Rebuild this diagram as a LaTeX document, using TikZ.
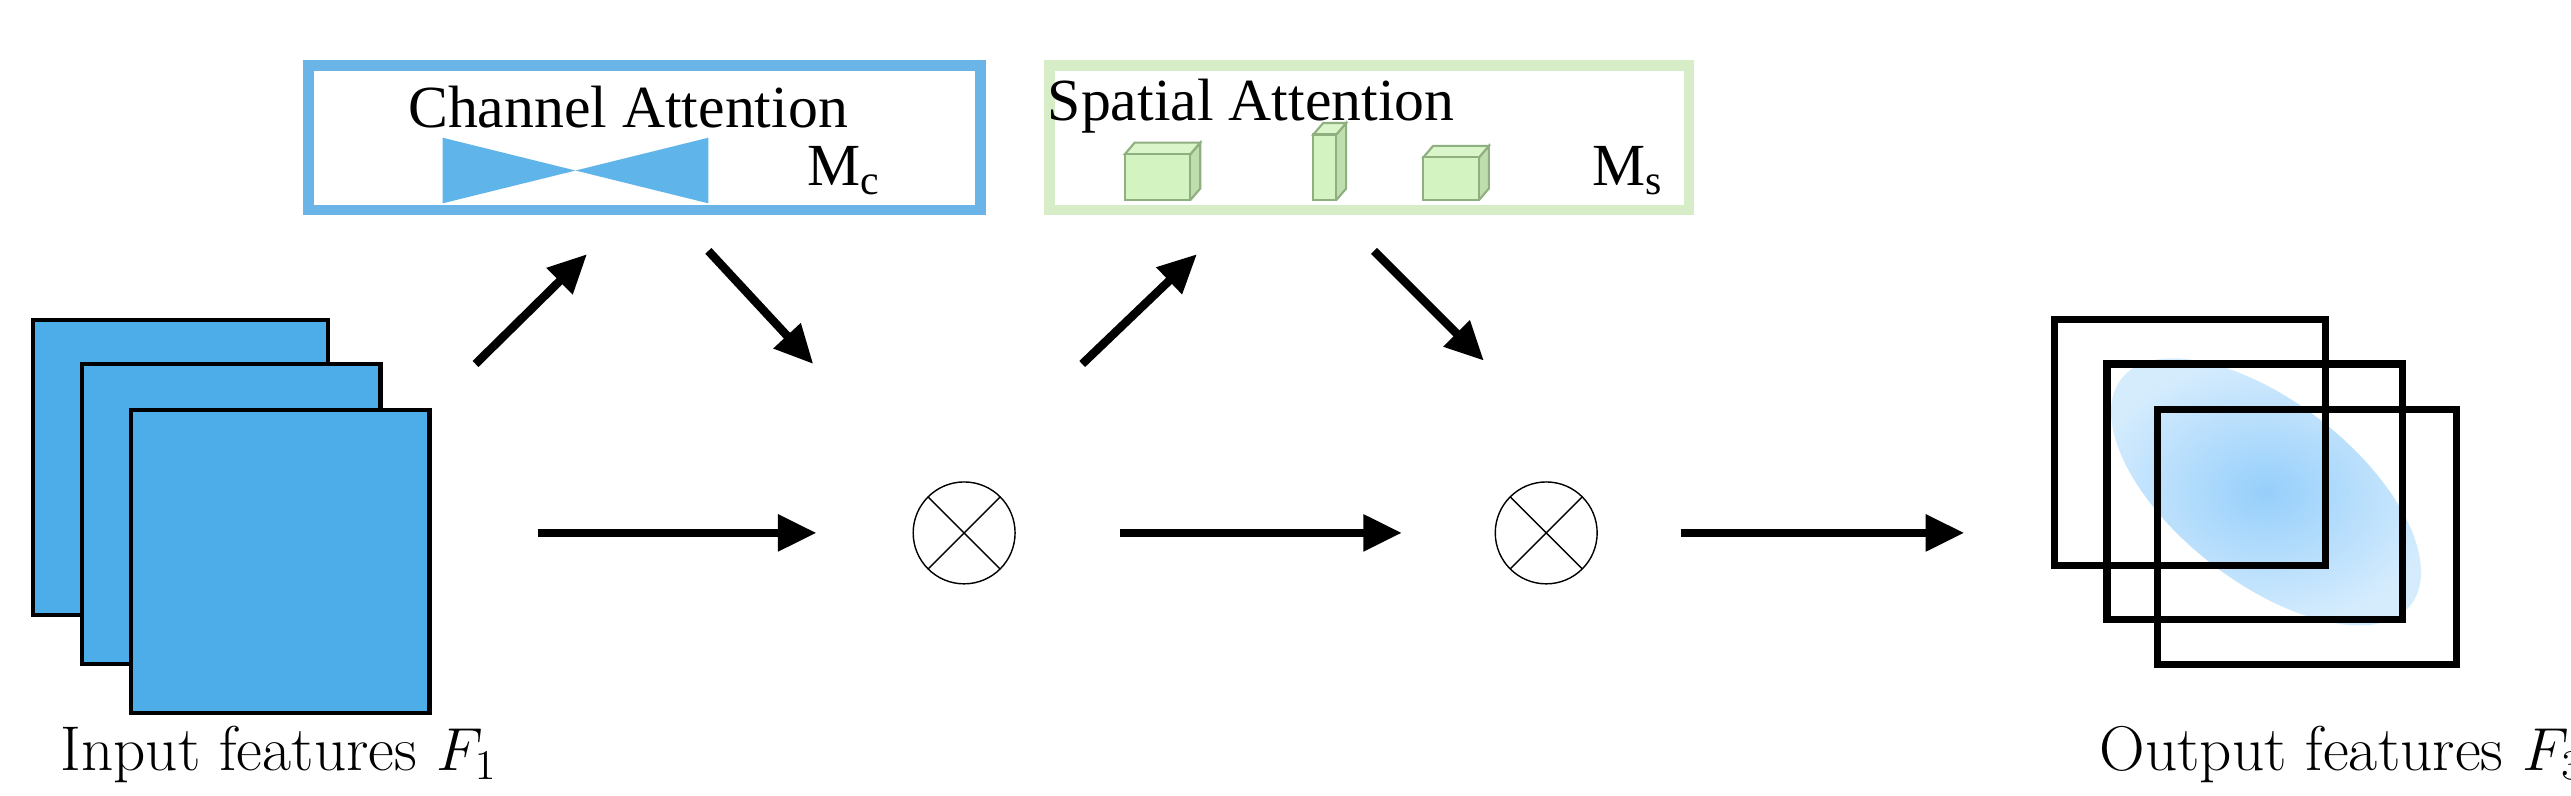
\documentclass[tikz,border=0pt]{standalone}
\usepackage{fontspec}
\newfontfamily\timesfont{Liberation Serif}
\usetikzlibrary{arrows.meta,positioning}
\definecolor{featblue}{HTML}{4DADE8}
\definecolor{cabox}{HTML}{6AB4E8}
\definecolor{sabox}{HTML}{D6EDC8}
\definecolor{cubefill}{HTML}{D3F3C0}
\definecolor{cubeedge}{HTML}{8FAF80}
\definecolor{blobblue}{HTML}{96CFFB}
\tikzset{
  feat/.style={draw=black,line width=1.2pt,fill=featblue},
  outfeat/.style={draw=black,line width=2pt},
  attbox/.style={line width=3pt,fill=white},
  flow/.style={-{Triangle[length=11pt,width=10pt]},line width=2.4pt},
  mult/.style={draw,circle,inner sep=0pt,minimum size=29pt,path picture={
      \draw (path picture bounding box.north west)--(path picture bounding box.south east)
            (path picture bounding box.south west)--(path picture bounding box.north east);}},
  cube/.style={fill=cubefill,draw=cubeedge,line width=0.6pt},
}
\newcommand{\smallcube}[4]{% x y w h
  \fill[cubefill!70!cubeedge] (#1+#3,#2)--++(6,-7)--++(0,#4)--++(-6,7)--cycle;
  \draw[cubeedge,line width=0.6pt] (#1+#3,#2)--++(6,-7)--++(0,#4)--++(-6,7);
  \filldraw[cubefill!85!white,draw=cubeedge,line width=0.6pt] (#1,#2)--++(6,-7)--++(#3,0)--++(-6,7)--cycle;
  \filldraw[cube] (#1,#2) rectangle ++(#3,#4);
}
\begin{document}
\begin{tikzpicture}[x=0.164mm,y=-0.164mm]
\useasboundingbox (0,0) rectangle (1568,485);
% input features
\draw[feat] (20,195) rectangle (200,375);
\draw[feat] (50,222) rectangle (232,405);
\draw[feat] (80,250) rectangle (262,435);
\node[font=\fontsize{18}{21}\selectfont] (inlbl) at (170,460) {Input features $F_1$};
% output features
\begin{scope}
\clip (1200,180) rectangle (1520,420);
\shade[inner color=blobblue,outer color=blobblue!40,rotate around={-38:(1382,300)}]
  (1382,300) ellipse (112 and 55);
\end{scope}
\draw[outfeat] (1253,195) rectangle (1418,345);
\draw[outfeat] (1285,222) rectangle (1465,378);
\draw[outfeat] (1316,250) rectangle (1498,405);
\node[font=\fontsize{18}{21}\selectfont] (outlbl) at (1428,460) {Output features $F_3$};
% channel attention
\draw[attbox,draw=cabox] (188,40) rectangle (598,128);
\node[font=\timesfont\fontsize{17}{20}\selectfont] (catitle) at (383,65) {Channel Attention};
\fill[featblue!90!white] (270,84)--(270,124)--(351,104)--cycle;
\fill[featblue!90!white] (432,84)--(432,124)--(351,104)--cycle;
\node[font=\timesfont\fontsize{17}{20}\selectfont] (mc) at (515,104) {M\textsubscript{c}};
% spatial attention
\draw[attbox,draw=sabox] (640,40) rectangle (1030,128);
\node[font=\timesfont\fontsize{17}{20}\selectfont] (satitle) at (763,65) {Spatial Attention};
\smallcube{686}{94}{40}{28}
\smallcube{801}{82}{14}{40}
\smallcube{868}{96}{34}{26}
\node[font=\timesfont\fontsize{17}{20}\selectfont] (ms) at (993,104) {M\textsubscript{s}};
% multiplications
\node[mult] (m1) at (588,325) {};
\node[mult] (m2) at (943,325) {};
\coordinate (a1s) at (290,222); \coordinate (a1e) at (358,155);
\coordinate (a2s) at (432,153); \coordinate (a2e) at (496,222);
\coordinate (a3s) at (660,222); \coordinate (a3e) at (730,155);
\coordinate (a4s) at (838,153); \coordinate (a4e) at (905,220);
\coordinate (h1s) at (328,325); \coordinate (h1e) at (498,325);
\coordinate (h2s) at (683,325); \coordinate (h2e) at (855,325);
\coordinate (h3s) at (1025,325); \coordinate (h3e) at (1198,325);
\foreach \s/\e in {a1s/a1e,a2s/a2e,a3s/a3e,a4s/a4e,h1s/h1e,h2s/h2e,h3s/h3e}
  \draw[flow] (\s) -- (\e);
\end{tikzpicture}
\end{document}
